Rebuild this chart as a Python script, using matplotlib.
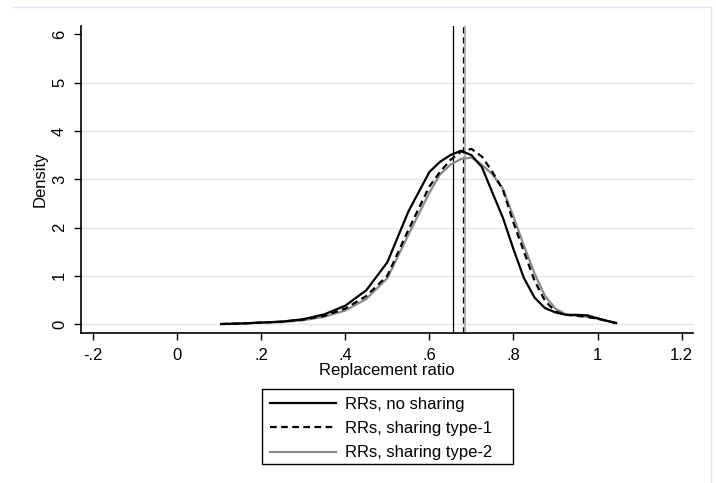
import matplotlib
matplotlib.use("Agg")
import matplotlib.pyplot as plt
from matplotlib.lines import Line2D
from matplotlib.patches import Rectangle

plt.rcParams['font.family'] = ['Liberation Sans', 'DejaVu Sans']

# Kernel density estimates of replacement ratios
ratio = [0.105, 0.15, 0.2, 0.25, 0.3, 0.35, 0.4, 0.45, 0.5, 0.55, 0.6, 0.625,
         0.65, 0.675, 0.7, 0.725, 0.75, 0.775, 0.8, 0.825, 0.85, 0.875, 0.9,
         0.925, 0.95, 0.975, 1.0, 1.02, 1.044]
dens_no_sharing = [0.0, 0.01, 0.03, 0.05, 0.10, 0.20, 0.38, 0.70, 1.28, 2.33,
                   3.15, 3.36, 3.50, 3.59, 3.50, 3.25, 2.72, 2.20, 1.55, 0.95,
                   0.55, 0.33, 0.24, 0.19, 0.19, 0.18, 0.12, 0.07, 0.02]
dens_type1 = [0.0, 0.01, 0.03, 0.05, 0.09, 0.17, 0.32, 0.58, 1.00, 1.95,
              2.85, 3.15, 3.40, 3.57, 3.63, 3.47, 3.15, 2.78, 2.10, 1.50,
              0.90, 0.48, 0.26, 0.19, 0.17, 0.15, 0.11, 0.07, 0.02]
dens_type2 = [0.0, 0.01, 0.03, 0.04, 0.08, 0.15, 0.28, 0.52, 0.95, 1.85,
              2.72, 3.10, 3.30, 3.42, 3.45, 3.30, 3.10, 2.80, 2.22, 1.62,
              1.05, 0.58, 0.32, 0.20, 0.17, 0.15, 0.11, 0.07, 0.02]

# Means of each distribution
mean_no_sharing = 0.656
mean_type1 = 0.679
mean_type2 = 0.685

labels = ["RRs, no sharing", "RRs, sharing type-1", "RRs, sharing type-2"]
x_ticks = [-0.2, 0, 0.2, 0.4, 0.6, 0.8, 1.0, 1.2]
x_ticklabels = ["-.2", "0", ".2", ".4", ".6", ".8", "1", "1.2"]
y_ticks = [0, 1, 2, 3, 4, 5, 6]

grid_col = '#e4e4f4'
gray = '#8a8a8a'
fs = 12

W, H = 716, 483
fig = plt.figure(figsize=(W / 100, H / 100), dpi=100)
ax = fig.add_axes([81 / W, 150 / H, 612 / W, 307 / H])

for g in range(0, 6):
    ax.axhline(g, color=grid_col, lw=1.0, zorder=0)

ax.axvline(mean_no_sharing, color='black', lw=0.9, zorder=2)
ax.axvline(mean_type1, color='black', lw=0.9, ls=(0, (5, 3)), zorder=2)
ax.axvline(mean_type2, color='#a8a8a8', lw=1.2, zorder=1)

l1, = ax.plot(ratio, dens_no_sharing, color='black', lw=1.6, zorder=4)
l2, = ax.plot(ratio, dens_type1, color='black', lw=1.6, ls=(0, (3, 2)), zorder=4)
l3, = ax.plot(ratio, dens_type2, color=gray, lw=1.6, zorder=3)

ax.set_xlim(-0.2286, 1.227)
ax.set_ylim(-0.186, 6.176)
ax.set_xticks(x_ticks)
ax.set_xticklabels(x_ticklabels)
ax.set_yticks(y_ticks)
ax.set_yticklabels([str(t) for t in y_ticks], rotation=90, va='center')
ax.tick_params(axis='both', direction='out', length=5, width=1,
               labelsize=fs, colors='black')
ax.tick_params(axis='x', pad=6)
ax.tick_params(axis='y', pad=5)

for side in ('top', 'right'):
    ax.spines[side].set_visible(False)
for side in ('left', 'bottom'):
    ax.spines[side].set_linewidth(1.2)

ax.set_xlabel("Replacement ratio", fontsize=fs, labelpad=0)
ax.set_ylabel("Density", fontsize=fs, labelpad=3)

# Legend entries, with a plain box drawn around them
leg = fig.legend([l1, l2, l3], labels, loc='upper left',
                 bbox_to_anchor=(270 / W, 1 - 397 / H), borderaxespad=0,
                 fontsize=fs, frameon=False, handlelength=3.95,
                 handletextpad=0.55, labelspacing=0.55, borderpad=0)
fig.add_artist(Rectangle((262 / W, 1 - 464 / H), 251 / W, 75 / H,
                         transform=fig.transFigure, fill=False,
                         edgecolor='black', lw=1.0))

# Light outer frame
fig.add_artist(Line2D([12 / W, 711 / W], [1 - 7 / H, 1 - 7 / H],
                      color=grid_col, lw=1.0, transform=fig.transFigure))
fig.add_artist(Line2D([711 / W, 711 / W], [0, 1 - 7 / H],
                      color=grid_col, lw=1.0, transform=fig.transFigure))

fig.savefig("out.png", dpi=100)
